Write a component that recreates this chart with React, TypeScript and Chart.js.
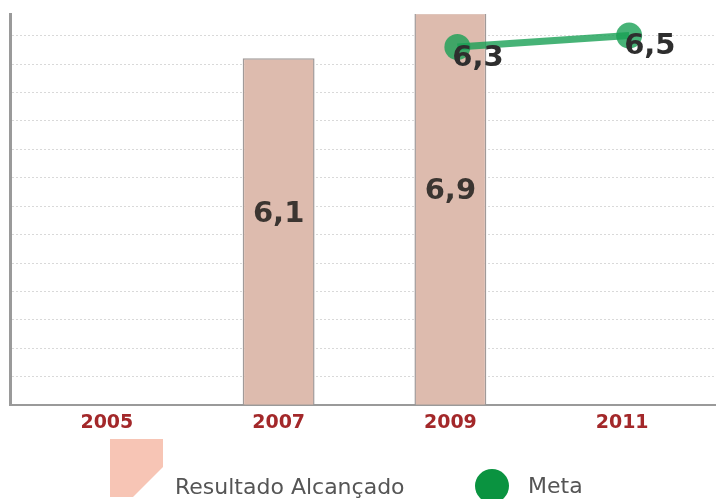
import React, { useEffect, useRef } from "react";
import { Chart, registerables } from "chart.js";

Chart.register(...registerables);

const categories = ["2005", "2007", "2009", "2011"];
const resultadoValues: (number | null)[] = [null, 6.1, 6.9, null];
const metaValues: (number | null)[] = [null, null, 6.3, 6.5];
const seriesNames = ["Resultado Alcançado", "Meta"];
const formatValue = (v: number) => v.toFixed(1).replace(".", ",");

const X_MIN = 2005 - 1.128;
const X_MAX = 2011 + 1.093;
const LINE_SHIFT = 7 / 86;

const valueLabels = {
  id: "valueLabels",
  afterDatasetsDraw(chart: any) {
    const ctx = chart.ctx;
    ctx.save();
    ctx.font = "bold 29px 'DejaVu Sans'";
    ctx.textBaseline = "middle";
    const barMeta = chart.getDatasetMeta(0);
    ctx.fillStyle = "#3b3531";
    ctx.textAlign = "center";
    barMeta.data.forEach((el: any, i: number) => {
      const raw = chart.data.datasets[0].data[i];
      if (!raw || raw.y == null) return;
      ctx.fillText(formatValue(raw.y), el.x, (el.y + el.base) / 2 - 17);
    });
    const lineMeta = chart.getDatasetMeta(1);
    ctx.fillStyle = "#2e2e2e";
    ctx.textAlign = "left";
    lineMeta.data.forEach((el: any, i: number) => {
      const raw = chart.data.datasets[1].data[i];
      if (!raw || raw.y == null) return;
      ctx.fillText(formatValue(raw.y), el.x - 5, el.y + 11);
    });
    ctx.restore();
  },
};

const customLegend = {
  id: "customLegend",
  afterDraw(chart: any) {
    const ctx = chart.ctx;
    ctx.save();
    ctx.fillStyle = "#f7c5b5";
    ctx.beginPath();
    ctx.moveTo(110, 439);
    ctx.lineTo(163, 439);
    ctx.lineTo(163, 467);
    ctx.lineTo(133, 497);
    ctx.lineTo(110, 497);
    ctx.closePath();
    ctx.fill();
    ctx.font = "22px 'DejaVu Sans'";
    ctx.fillStyle = "#555555";
    ctx.textAlign = "left";
    ctx.textBaseline = "alphabetic";
    ctx.fillText(seriesNames[0], 175, 494);
    ctx.fillStyle = "#0a9340";
    ctx.beginPath();
    ctx.arc(492, 486, 17, 0, Math.PI * 2);
    ctx.fill();
    ctx.fillStyle = "#555555";
    ctx.fillText(seriesNames[1], 528, 493);
    ctx.restore();
  },
};

export default function App() {
  const ref = useRef<HTMLCanvasElement>(null);
  useEffect(() => {
    if (!ref.current) return;
    const barData = categories
      .map((c, i) => ({ x: Number(c), y: resultadoValues[i] }))
      .filter((d) => d.y != null);
    const lineData = categories
      .map((c, i) => ({ x: Number(c), y: metaValues[i] }))
      .filter((d) => d.y != null);
    const chart = new Chart(ref.current, {
      type: "bar",
      data: {
        datasets: [
          {
            type: "bar",
            label: seriesNames[0],
            data: barData as any,
            backgroundColor: "#ddbbae",
            borderColor: "#a09a99",
            borderWidth: 1.5,
            grouped: false,
            categoryPercentage: 1,
            barPercentage: 72 / 172,
            xAxisID: "x",
            order: 2,
          } as any,
          {
            type: "line",
            label: seriesNames[1],
            data: lineData as any,
            borderColor: "rgba(25,160,85,0.8)",
            borderWidth: 7,
            pointRadius: 13,
            pointHoverRadius: 13,
            pointBorderWidth: 0,
            pointBackgroundColor: "rgba(25,160,85,0.8)",
            xAxisID: "x2",
            order: 1,
          } as any,
        ],
      },
      options: {
        responsive: false,
        animation: false,
        layout: { autoPadding: false, padding: { left: 10, top: 14, right: 0, bottom: 59 } },
        plugins: {
          legend: { display: false },
          tooltip: { enabled: false },
        },
        scales: {
          x: {
            type: "linear",
            offset: false,
            min: X_MIN,
            max: X_MAX,
            afterBuildTicks: (scale: any) => {
              scale.ticks = categories.map((c) => ({ value: Number(c) }));
            },
            grid: { display: false, drawTicks: false },
            border: { display: true, color: "#9a9a9a", width: 2 },
            ticks: {
              autoSkip: false,
              maxRotation: 0,
              padding: 6,
              color: "#a3282a",
              font: { family: "'DejaVu Sans'", size: 19, weight: "bold" },
              callback: (v: any) => String(v),
            },
          },
          x2: {
            type: "linear",
            display: false,
            offset: false,
            min: X_MIN - LINE_SHIFT,
            max: X_MAX - LINE_SHIFT,
          },
          y: {
            min: 0,
            max: 6.88,
            ticks: { display: false, stepSize: 0.5 },
            grid: {
              drawTicks: false,
              color: (ctx: any) => {
                const v = ctx.tick ? ctx.tick.value : 0;
                if (v === 0) return "rgba(0,0,0,0)";
                if (Math.abs(v / 0.5 - Math.round(v / 0.5)) > 1e-6) return "rgba(0,0,0,0)";
                return "#d9d9d9";
              },
            },
            border: { display: true, color: "#9a9a9a", width: 3, dash: [2, 2] },
          },
        } as any,
      },
      plugins: [valueLabels, customLegend],
    });
    return () => chart.destroy();
  }, []);
  return (
    <div style={{ position: "absolute", left: 0, top: 0, width: 716, height: 499, background: "#fff" }}>
      <canvas ref={ref} width={716} height={499} style={{ display: "block" }} />
    </div>
  );
}
